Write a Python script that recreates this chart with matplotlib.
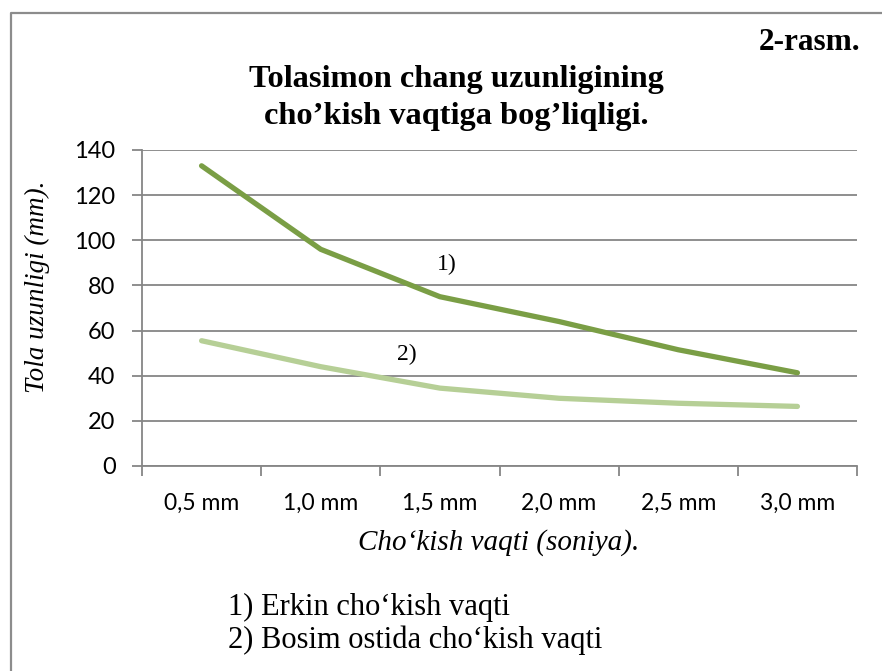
import matplotlib.pyplot as plt
from matplotlib.lines import Line2D

# Ma'lumotlar
categories = ["0,5 mm", "1,0 mm", "1,5 mm", "2,0 mm", "2,5 mm", "3,0 mm"]
erkin = [133, 96, 75, 64, 51.5, 41.3]
bosim = [55.5, 44, 34.5, 30, 27.8, 26.4]
y_ticks = [0, 20, 40, 60, 80, 100, 120, 140]

serif = "Liberation Serif"
sans = "Lato"

fig = plt.figure(figsize=(8.82, 6.71), dpi=100)
ax = fig.add_axes([142 / 882, 1 - 466 / 671, 715 / 882, 316 / 671])

x = [i + 0.5 for i in range(len(categories))]
ax.plot(x, erkin, color="#7a9e45", lw=3.8, solid_capstyle="round", solid_joinstyle="round", zorder=3)
ax.plot(x, bosim, color="#b6cf96", lw=3.8, solid_capstyle="round", solid_joinstyle="round", zorder=3)

ax.set_xlim(0, len(categories))
ax.set_ylim(0, 140)
ax.set_yticks(y_ticks)
ax.set_yticklabels([str(v) for v in y_ticks], fontfamily=sans, fontsize=17)
ax.set_xticks(range(len(categories) + 1))
ax.set_xticklabels([])
ax.set_xticks(x, minor=True)
ax.set_xticklabels(categories, minor=True, fontfamily=sans, fontsize=16.5)
ax.tick_params(axis="x", which="minor", length=0, pad=19)
ax.tick_params(axis="x", which="major", length=7, width=1.3, color="#868686")
ax.tick_params(axis="y", length=7, width=1.3, color="#868686", pad=12)

ax.grid(axis="y", color="#868686", lw=1.3)
ax.set_axisbelow(True)
for s in ["top", "right"]:
    ax.spines[s].set_visible(False)
ax.spines["left"].set_color("#868686")
ax.spines["bottom"].set_color("#868686")
ax.spines["left"].set_linewidth(1.3)
ax.spines["bottom"].set_linewidth(1.3)

# seriya belgilari
ax.text(2.56, 89.5, "1)", fontfamily=serif, fontsize=17, ha="center", va="center")
ax.text(2.22, 49.6, "2)", fontfamily=serif, fontsize=17, ha="center", va="center")

# sarlavhalar
fig.text(456 / 882, 1 - 98 / 671, "Tolasimon chang uzunligining\ncho’kish vaqtiga bog’liqligi.",
         fontfamily=serif, fontweight="bold", fontsize=23.3, ha="center", va="center", linespacing=1.35)
fig.text(860 / 882, 1 - 43 / 671, "2-rasm.", fontfamily=serif, fontweight="bold", fontsize=22.5,
         ha="right", va="center")
fig.text(37 / 882, 1 - 287 / 671, "Tola uzunligi (mm).", fontfamily=serif, style="italic",
         fontsize=19.5, rotation=90, ha="center", va="center")
fig.text(499 / 882, 1 - 543 / 671, "Cho‘kish vaqti (soniya).", fontfamily=serif, style="italic",
         fontsize=21, ha="center", va="center")
fig.text(228 / 882, 1 - 607 / 671, "1) Erkin cho‘kish vaqti", fontfamily=serif, fontsize=22,
         ha="left", va="center")
fig.text(228 / 882, 1 - 640 / 671, "2) Bosim ostida cho‘kish vaqti", fontfamily=serif, fontsize=22,
         ha="left", va="center")

# ramka
fig.add_artist(Line2D([11 / 882, 11 / 882, 1.0], [0.0, 1 - 13 / 671, 1 - 13 / 671],
                      transform=fig.transFigure, color="#8c8c8c", lw=1.6))

fig.savefig("out.png", dpi=100)
